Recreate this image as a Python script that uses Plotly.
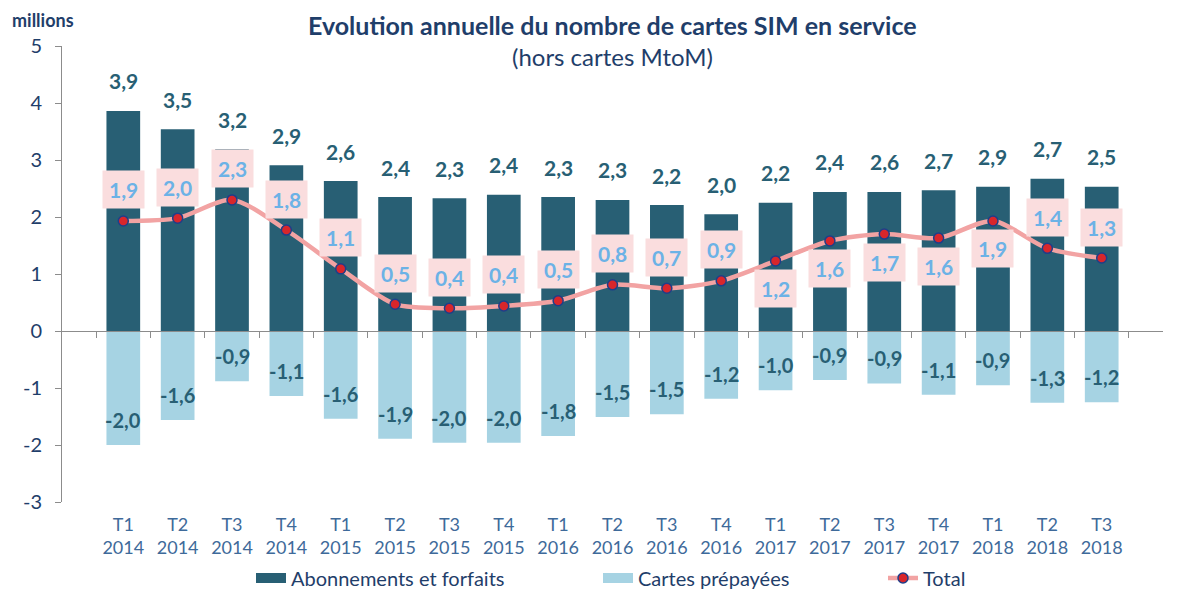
import plotly.graph_objects as go

quarters = ["T1", "T2", "T3", "T4", "T1", "T2", "T3", "T4", "T1", "T2", "T3", "T4",
            "T1", "T2", "T3", "T4", "T1", "T2", "T3"]
years = ["2014", "2014", "2014", "2014", "2015", "2015", "2015", "2015", "2016", "2016",
         "2016", "2016", "2017", "2017", "2017", "2017", "2018", "2018", "2018"]

abonnements = [3.86, 3.54, 3.19, 2.91, 2.63, 2.35, 2.33, 2.39, 2.35, 2.30, 2.21, 2.05,
               2.25, 2.44, 2.44, 2.47, 2.53, 2.67, 2.53]
abonnements_labels = ["3,9", "3,5", "3,2", "2,9", "2,6", "2,4", "2,3", "2,4", "2,3", "2,3",
                      "2,2", "2,0", "2,2", "2,4", "2,6", "2,7", "2,9", "2,7", "2,5"]

prepayees = [-2.00, -1.56, -0.88, -1.14, -1.54, -1.89, -1.96, -1.96, -1.84, -1.51, -1.46,
             -1.19, -1.04, -0.86, -0.92, -1.12, -0.95, -1.26, -1.25]
prepayees_labels = ["-2,0", "-1,6", "-0,9", "-1,1", "-1,6", "-1,9", "-2,0", "-2,0", "-1,8",
                    "-1,5", "-1,5", "-1,2", "-1,0", "-0,9", "-0,9", "-1,1", "-0,9", "-1,3", "-1,2"]

total = [1.93, 1.98, 2.30, 1.77, 1.09, 0.47, 0.40, 0.44, 0.53, 0.81, 0.75, 0.88,
         1.23, 1.58, 1.70, 1.63, 1.93, 1.45, 1.28]
total_labels = ["1,9", "2,0", "2,3", "1,8", "1,1", "0,5", "0,4", "0,4", "0,5", "0,8", "0,7",
                "0,9", "1,2", "1,6", "1,7", "1,6", "1,9", "1,4", "1,3"]

y_ticks = [-3, -2, -1, 0, 1, 2, 3, 4, 5]
y_tick_labels = ["-3", "-2", "-1", "0", "1", "2", "3", "4", "5"]

# label placement for the Total series (style choice): below the point for these indices
total_below = {12, 13, 14, 15, 16}

cats = [f"{q}<br>{y}" for q, y in zip(quarters, years)]

FONT = "Lato"
DARK = "#285F74"
LIGHT = "#A6D3E3"
NAVY = "#1F3E6A"

# the page body adds an 8px offset; the figure is sized to fit the window
W, H = 1169, 581

fig = go.Figure()
fig.add_trace(go.Bar(x=cats, y=abonnements, name="Abonnements et forfaits",
                     marker=dict(color=DARK, line=dict(width=0)), showlegend=False))
fig.add_trace(go.Bar(x=cats, y=prepayees, name="Cartes prépayées",
                     marker=dict(color=LIGHT, line=dict(width=0)), showlegend=False))
fig.add_trace(go.Scatter(x=cats, y=total, name="Total", mode="lines+markers",
                         line=dict(color="#F2A3A3", width=4.5, shape="spline", smoothing=0.8),
                         marker=dict(color="#D8262B", size=10,
                                     line=dict(color="#1F3E8A", width=1.5)),
                         legend="legend3"))
# legend swatches for the bar series (wide rectangles)
fig.add_trace(go.Scatter(x=[None], y=[None], mode="lines", name="Abonnements et forfaits",
                         line=dict(color=DARK, width=13), legend="legend", hoverinfo="skip"))
fig.add_trace(go.Scatter(x=[None], y=[None], mode="lines", name="Cartes prépayées",
                         line=dict(color=LIGHT, width=13), legend="legend2", hoverinfo="skip"))
# helper trace to draw the zero axis with boundary ticks
fig.add_trace(go.Scatter(x=cats, y=[0] * len(cats), xaxis="x2", mode="markers",
                         marker=dict(opacity=0), showlegend=False, hoverinfo="skip"))

annotations = []
for c, v, t in zip(cats, abonnements, abonnements_labels):
    annotations.append(dict(x=c, y=v, text=f"<b>{t}</b>", showarrow=False, yanchor="middle",
                            yshift=30, font=dict(family=FONT, size=21, color=DARK)))
for c, v, t in zip(cats, prepayees, prepayees_labels):
    annotations.append(dict(x=c, y=v, text=f"<b>{t}</b>", showarrow=False, yanchor="middle",
                            yshift=25, font=dict(family=FONT, size=20, color=DARK)))
for i, (c, v, t) in enumerate(zip(cats, total, total_labels)):
    shift = -28 if i in total_below else 31
    annotations.append(dict(x=c, y=v, text=f"<b>{t}</b>", showarrow=False, yanchor="middle",
                            yshift=shift, bgcolor="#FADDDE", borderpad=6,
                            font=dict(family=FONT, size=21, color="#6CB2E6")))

annotations.append(dict(xref="paper", yref="paper", x=0.5, y=1.046, showarrow=False,
                        text="<b>Evolution annuelle du nombre de cartes SIM en service</b>",
                        font=dict(family=FONT, size=25, color=NAVY), yanchor="middle"))
annotations.append(dict(xref="paper", yref="paper", x=0.5, y=0.978, showarrow=False,
                        text="(hors cartes MtoM)",
                        font=dict(family=FONT, size=24, color=NAVY), yanchor="middle"))
annotations.append(dict(xref="paper", yref="paper", x=-0.047, y=1.056, showarrow=False,
                        text="<b>millions</b>", xanchor="left", yanchor="middle",
                        font=dict(family=FONT, size=18, color=NAVY)))

legend_common = dict(orientation="h", yref="container", y=(H - 570) / H, yanchor="middle",
                     xref="container", xanchor="left", bgcolor="rgba(0,0,0,0)",
                     font=dict(family=FONT, size=20, color=NAVY))

fig.update_layout(
    width=W, height=H,
    margin=dict(l=54, r=14, t=38, b=87, autoexpand=False),
    paper_bgcolor="white", plot_bgcolor="white",
    barmode="relative", bargap=0.38,
    font=dict(family=FONT, color=NAVY),
    annotations=annotations,
    xaxis=dict(type="category", showline=False, ticks="", showgrid=False, automargin=False,
               tickfont=dict(family=FONT, size=18, color="#3E6A9A"), ticklabelstandoff=10),
    xaxis2=dict(type="category", overlaying="x", matches="x", anchor="free", position=0.375,
                showline=True, linecolor="#8C8C8C", linewidth=1, ticks="outside",
                tickson="boundaries", ticklen=6, tickcolor="#8C8C8C", automargin=False,
                showticklabels=False, showgrid=False),
    yaxis=dict(range=[-3, 5], tickvals=y_ticks, ticktext=y_tick_labels, showgrid=False,
               zeroline=False, automargin=False,
               showline=True, linecolor="#8C8C8C", linewidth=1,
               ticks="outside", ticklen=6, tickcolor="#8C8C8C", ticklabelstandoff=9,
               tickfont=dict(family=FONT, size=20, color=NAVY)),
    legend=dict(legend_common, x=243 / W),
    legend2=dict(legend_common, x=590 / W),
    legend3=dict(legend_common, x=875 / W),
    showlegend=True,
)

fig.write_html("out.html")
